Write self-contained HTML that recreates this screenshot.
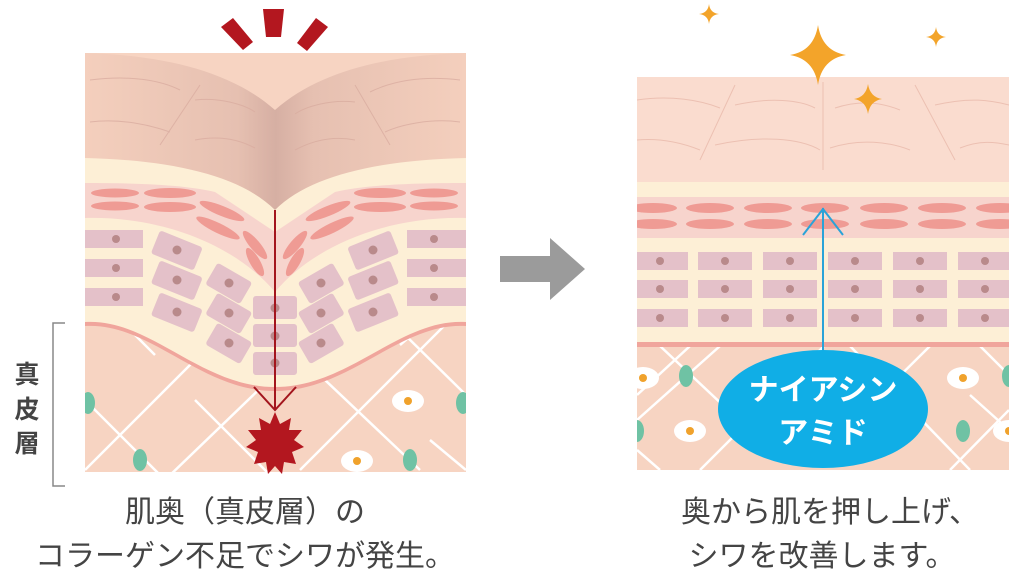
<!DOCTYPE html>
<html><head><meta charset="utf-8"><style>
html,body{margin:0;padding:0;background:#fff;width:1024px;height:576px;overflow:hidden}
svg{display:block}
text{font-family:"Liberation Sans","Noto Sans CJK JP",sans-serif}
</style></head><body>
<svg width="1024" height="576" viewBox="0 0 1024 576" xmlns="http://www.w3.org/2000/svg">
<defs>
<linearGradient id="epi" x1="0" x2="1" y1="0" y2="0">
<stop offset="0" stop-color="#f4cfbd"/><stop offset="0.4" stop-color="#e6c0b1"/><stop offset="0.5" stop-color="#d6afa3"/><stop offset="0.6" stop-color="#e6c0b1"/><stop offset="1" stop-color="#f4cfbd"/>
</linearGradient>
<clipPath id="lc"><rect x="85" y="40" width="381" height="432"/></clipPath>
<clipPath id="rc"><rect x="637" y="77" width="372" height="393"/></clipPath>
</defs>

<polygon points="263,9 284,9 281,37 266,37" fill="#b3171f"/>
<polygon points="221,27 233,18 253,42 243,50" fill="#b3171f"/>
<polygon points="316,18 328,27 307,51 297,43" fill="#b3171f"/>

<g clip-path="url(#lc)">
<rect x="85" y="53" width="381" height="420" fill="#f7d4c2"/>
<g stroke="#fff" stroke-width="2.5" fill="none">
<path d="M85,470 L250,305 M130,330 L155,355 M85,400 L165,480 M195,400 L275,480 M165,480 L300,350 M300,470 L470,300 M325,380 L420,470 M400,330 L466,395 M400,345 L440,310 M466,470 L430,440"/>
</g>
<ellipse cx="88" cy="403" rx="7" ry="11" fill="#6fc2a4"/>
<ellipse cx="463" cy="403" rx="7" ry="11" fill="#6fc2a4"/>
<ellipse cx="140" cy="460" rx="7" ry="11" fill="#6fc2a4"/>
<ellipse cx="410" cy="460" rx="7" ry="11" fill="#6fc2a4"/>
<ellipse cx="408" cy="401" rx="16" ry="11" fill="#fff"/><circle cx="408" cy="401" r="4" fill="#f0a22c"/>
<ellipse cx="357" cy="461" rx="16" ry="11" fill="#fff"/><circle cx="357" cy="461" r="4" fill="#f0a22c"/>
<path d="M85,150 L466,150 L466,326 C400,322 350,391 275,391 C200,391 150,322 85,326 Z" fill="#f0a59c"/>
<path d="M85,150 L466,150 L466,322 C400,318 350,387 275,387 C200,387 150,318 85,322 Z" fill="#fdefd6"/>
<path d="M85,183 C150,183 190,186 215,192 L275,232 L335,192 C360,186 400,183 466,183 L466,218 C380,216 310,250 275,292 C240,250 170,216 85,218 Z" fill="#f7d4cd"/>
<g fill="#ef9b94">
<ellipse cx="115" cy="193" rx="24" ry="4.5"/><ellipse cx="115" cy="206" rx="24" ry="4.5"/>
<ellipse cx="170" cy="193" rx="26" ry="5"/><ellipse cx="170" cy="207" rx="26" ry="5"/>
<ellipse cx="222" cy="211" rx="24" ry="5" transform="rotate(22 222 211)"/><ellipse cx="218" cy="228" rx="24" ry="5" transform="rotate(26 218 228)"/>
<ellipse cx="255" cy="245" rx="18" ry="5" transform="rotate(50 255 245)"/><ellipse cx="255" cy="262" rx="16" ry="5" transform="rotate(60 255 262)"/>
<ellipse cx="434" cy="193" rx="24" ry="4.5"/><ellipse cx="434" cy="206" rx="24" ry="4.5"/>
<ellipse cx="380" cy="193" rx="26" ry="5"/><ellipse cx="380" cy="207" rx="26" ry="5"/>
<ellipse cx="328" cy="211" rx="24" ry="5" transform="rotate(-22 328 211)"/><ellipse cx="332" cy="228" rx="24" ry="5" transform="rotate(-26 332 228)"/>
<ellipse cx="295" cy="245" rx="18" ry="5" transform="rotate(-50 295 245)"/><ellipse cx="295" cy="262" rx="16" ry="5" transform="rotate(-60 295 262)"/>
</g>
<g fill="#e4c1c9">
<rect x="85" y="230" width="58" height="18"/><rect x="85" y="259" width="58" height="18"/><rect x="85" y="288" width="58" height="18"/>
<rect x="407" y="230" width="59" height="18"/><rect x="407" y="259" width="59" height="18"/><rect x="407" y="288" width="59" height="18"/>
<rect x="154" y="238" width="46" height="25" rx="3" transform="rotate(22 177 250)"/>
<rect x="154" y="268" width="46" height="25" rx="3" transform="rotate(22 177 280)"/>
<rect x="154" y="300" width="46" height="25" rx="3" transform="rotate(22 177 312)"/>
<rect x="350" y="238" width="46" height="25" rx="3" transform="rotate(-22 373 250)"/>
<rect x="350" y="268" width="46" height="25" rx="3" transform="rotate(-22 373 280)"/>
<rect x="350" y="300" width="46" height="25" rx="3" transform="rotate(-22 373 312)"/>
<rect x="209" y="271" width="40" height="25" rx="3" transform="rotate(30 229 283)"/>
<rect x="209" y="301" width="40" height="25" rx="3" transform="rotate(30 229 313)"/>
<rect x="209" y="331" width="40" height="25" rx="3" transform="rotate(30 229 343)"/>
<rect x="301" y="271" width="40" height="25" rx="3" transform="rotate(-30 321 283)"/>
<rect x="301" y="301" width="40" height="25" rx="3" transform="rotate(-30 321 313)"/>
<rect x="301" y="331" width="40" height="25" rx="3" transform="rotate(-30 321 343)"/>
<rect x="253" y="296" width="44" height="23" rx="3"/>
<rect x="253" y="324" width="44" height="23" rx="3"/>
<rect x="253" y="352" width="44" height="23" rx="3"/>
</g>
<g fill="#b98a8b">
<circle cx="116" cy="239" r="4"/><circle cx="116" cy="268" r="4"/><circle cx="116" cy="297" r="4"/>
<circle cx="434" cy="239" r="4"/><circle cx="434" cy="268" r="4"/><circle cx="434" cy="297" r="4"/>
<circle cx="177" cy="250" r="4.5"/><circle cx="177" cy="280" r="4.5"/><circle cx="177" cy="312" r="4.5"/>
<circle cx="373" cy="250" r="4.5"/><circle cx="373" cy="280" r="4.5"/><circle cx="373" cy="312" r="4.5"/>
<circle cx="229" cy="283" r="4.5"/><circle cx="229" cy="313" r="4.5"/><circle cx="229" cy="343" r="4.5"/>
<circle cx="321" cy="283" r="4.5"/><circle cx="321" cy="313" r="4.5"/><circle cx="321" cy="343" r="4.5"/>
<circle cx="275" cy="308" r="4.5"/><circle cx="275" cy="336" r="4.5"/><circle cx="275" cy="363" r="4.5"/>
</g>
<path d="M85,53 C160,55 230,70 275,110 C320,70 390,55 466,53 L466,158 C380,160 310,175 275,210 C240,175 170,160 85,158 Z" fill="url(#epi)"/>
<g stroke="#d9ada0" stroke-width="1" fill="none" opacity="0.8">
<path d="M90,80 C130,75 160,80 180,90 M90,122 C120,118 150,125 170,132 M195,100 C220,97 245,105 255,112 M195,140 C220,135 240,140 255,148 M200,85 L160,145"/>
<path d="M460,80 C420,75 390,82 370,92 M460,122 C430,118 400,125 385,132 M355,102 C330,99 305,107 295,114 M355,140 C330,135 310,142 295,150 M355,85 L390,145"/>
</g>
</g>
<line x1="275" y1="210" x2="275" y2="410" stroke="#a3151d" stroke-width="2"/>
<polyline points="254,387 275,410 296,387" fill="none" stroke="#a3151d" stroke-width="2"/>
<polygon fill="#b3171f" points="275,412 280,424 291,418 289,430 302,430 294,440 304,447 292,452 296,464 284,462 282,474 275,466 268,474 266,462 254,464 258,452 246,447 256,440 248,430 261,430 259,418 270,424"/>

<path d="M65,323 L53,323 L53,486 L65,486" fill="none" stroke="#888" stroke-width="1.5"/>
<text x="27" y="383" font-size="25" font-weight="bold" fill="#444" text-anchor="middle">真</text>
<text x="27" y="418" font-size="25" font-weight="bold" fill="#444" text-anchor="middle">皮</text>
<text x="27" y="452" font-size="25" font-weight="bold" fill="#444" text-anchor="middle">層</text>

<polygon points="500,256 550,256 550,238 585,269 550,300 550,282 500,282" fill="#9b9b9b"/>

<g clip-path="url(#rc)">
<rect x="637" y="77" width="372" height="393" fill="#f7d4c2"/>
<g stroke="#fff" stroke-width="2.5" fill="none">
<path d="M637,395 L690,346 M660,346 L760,440 M637,450 L660,470 M700,470 L824,346 M850,346 L970,470 M930,346 L830,445 M950,470 L1009,410 M980,346 L1009,375 M1009,430 L970,395 M637,420 L720,346"/>
</g>
<ellipse cx="686" cy="376" rx="7" ry="11" fill="#6fc2a4"/>
<ellipse cx="637" cy="431" rx="7" ry="11" fill="#6fc2a4"/>
<ellipse cx="963" cy="431" rx="7" ry="11" fill="#6fc2a4"/>
<ellipse cx="1009" cy="376" rx="7" ry="11" fill="#6fc2a4"/>
<ellipse cx="643" cy="378" rx="16" ry="11" fill="#fff"/><circle cx="643" cy="378" r="4" fill="#f0a22c"/>
<ellipse cx="690" cy="431" rx="16" ry="11" fill="#fff"/><circle cx="690" cy="431" r="4" fill="#f0a22c"/>
<ellipse cx="963" cy="378" rx="16" ry="11" fill="#fff"/><circle cx="963" cy="378" r="4" fill="#f0a22c"/>
<ellipse cx="1009" cy="431" rx="16" ry="11" fill="#fff"/><circle cx="1009" cy="431" r="4" fill="#f0a22c"/>
<rect x="637" y="182" width="372" height="164" fill="#fdefd6"/>
<rect x="637" y="342" width="372" height="5" fill="#f0a59c"/>
<rect x="637" y="197" width="372" height="41" fill="#f7d4cd"/>
<g fill="#ef9b94">
<ellipse cx="653" cy="208" rx="24" ry="5"/><ellipse cx="653" cy="224" rx="24" ry="5"/>
<ellipse cx="710" cy="208" rx="24" ry="5"/><ellipse cx="710" cy="224" rx="24" ry="5"/>
<ellipse cx="768" cy="208" rx="24" ry="5"/><ellipse cx="768" cy="224" rx="24" ry="5"/>
<ellipse cx="825" cy="208" rx="24" ry="5"/><ellipse cx="825" cy="224" rx="24" ry="5"/>
<ellipse cx="884" cy="208" rx="24" ry="5"/><ellipse cx="884" cy="224" rx="24" ry="5"/>
<ellipse cx="942" cy="208" rx="24" ry="5"/><ellipse cx="942" cy="224" rx="24" ry="5"/>
<ellipse cx="1000" cy="208" rx="24" ry="5"/><ellipse cx="1000" cy="224" rx="24" ry="5"/>
</g>
<g fill="#e4c1c9">
<rect x="637" y="252" width="51" height="18"/><rect x="698" y="252" width="54" height="18"/><rect x="763" y="252" width="54" height="18"/><rect x="828" y="252" width="54" height="18"/><rect x="893" y="252" width="54" height="18"/><rect x="958" y="252" width="51" height="18"/>
<rect x="637" y="280" width="51" height="18"/><rect x="698" y="280" width="54" height="18"/><rect x="763" y="280" width="54" height="18"/><rect x="828" y="280" width="54" height="18"/><rect x="893" y="280" width="54" height="18"/><rect x="958" y="280" width="51" height="18"/>
<rect x="637" y="309" width="51" height="18"/><rect x="698" y="309" width="54" height="18"/><rect x="763" y="309" width="54" height="18"/><rect x="828" y="309" width="54" height="18"/><rect x="893" y="309" width="54" height="18"/><rect x="958" y="309" width="51" height="18"/>
</g>
<g fill="#b98a8b">
<circle cx="660" cy="261" r="4"/><circle cx="725" cy="261" r="4"/><circle cx="790" cy="261" r="4"/><circle cx="855" cy="261" r="4"/><circle cx="920" cy="261" r="4"/><circle cx="985" cy="261" r="4"/>
<circle cx="660" cy="289" r="4"/><circle cx="725" cy="289" r="4"/><circle cx="790" cy="289" r="4"/><circle cx="855" cy="289" r="4"/><circle cx="920" cy="289" r="4"/><circle cx="985" cy="289" r="4"/>
<circle cx="660" cy="318" r="4"/><circle cx="725" cy="318" r="4"/><circle cx="790" cy="318" r="4"/><circle cx="855" cy="318" r="4"/><circle cx="920" cy="318" r="4"/><circle cx="985" cy="318" r="4"/>
</g>
<rect x="637" y="77" width="372" height="105" fill="#fadccf"/>
<g stroke="#ecc0b2" stroke-width="1" fill="none">
<path d="M637,100 C670,95 700,100 720,108 M637,140 C660,138 680,142 700,150 M735,105 C770,97 800,100 815,108 M715,145 C760,135 800,138 820,150 M735,85 L700,160 M823,82 L823,170 M835,108 C860,100 880,102 900,110 M830,148 C860,138 890,142 910,150 M915,85 L955,160 M935,105 C970,97 990,100 1009,105 M960,148 C980,140 995,142 1009,145"/>
</g>
</g>
<line x1="823" y1="208" x2="823" y2="352" stroke="#2aa3d8" stroke-width="2"/>
<polyline points="803,235 823,209 843,235" fill="none" stroke="#2aa3d8" stroke-width="2"/>
<ellipse cx="823" cy="409" rx="105" ry="59" fill="#10aee6"/>
<text x="823" y="400" font-size="30" font-weight="bold" fill="#fff" text-anchor="middle">ナイアシン</text>
<text x="823" y="443" font-size="30" font-weight="bold" fill="#fff" text-anchor="middle">アミド</text>

<g fill="#f3a42a">
<path d="M818,25 Q822,51 846,55 Q822,59 818,85 Q814,59 790,55 Q814,51 818,25 Z"/>
<path d="M868,84 Q870,97 882,99 Q870,101 868,114 Q866,101 854,99 Q866,97 868,84 Z"/>
<path d="M709,4 Q710,13 719,14 Q710,15 709,24 Q708,15 699,14 Q708,13 709,4 Z"/>
<path d="M936,27 Q937,36 946,37 Q937,38 936,47 Q935,38 926,37 Q935,36 936,27 Z"/>
</g>

<g fill="#444" font-size="30" text-anchor="middle">
<text x="245" y="522">肌奥（真皮層）の</text>
<text x="245" y="566">コラーゲン不足でシワが発生。</text>
<text x="830" y="522">奥から肌を押し上げ、</text>
<text x="822" y="566">シワを改善します。</text>
</g>
</svg>
</body></html>
